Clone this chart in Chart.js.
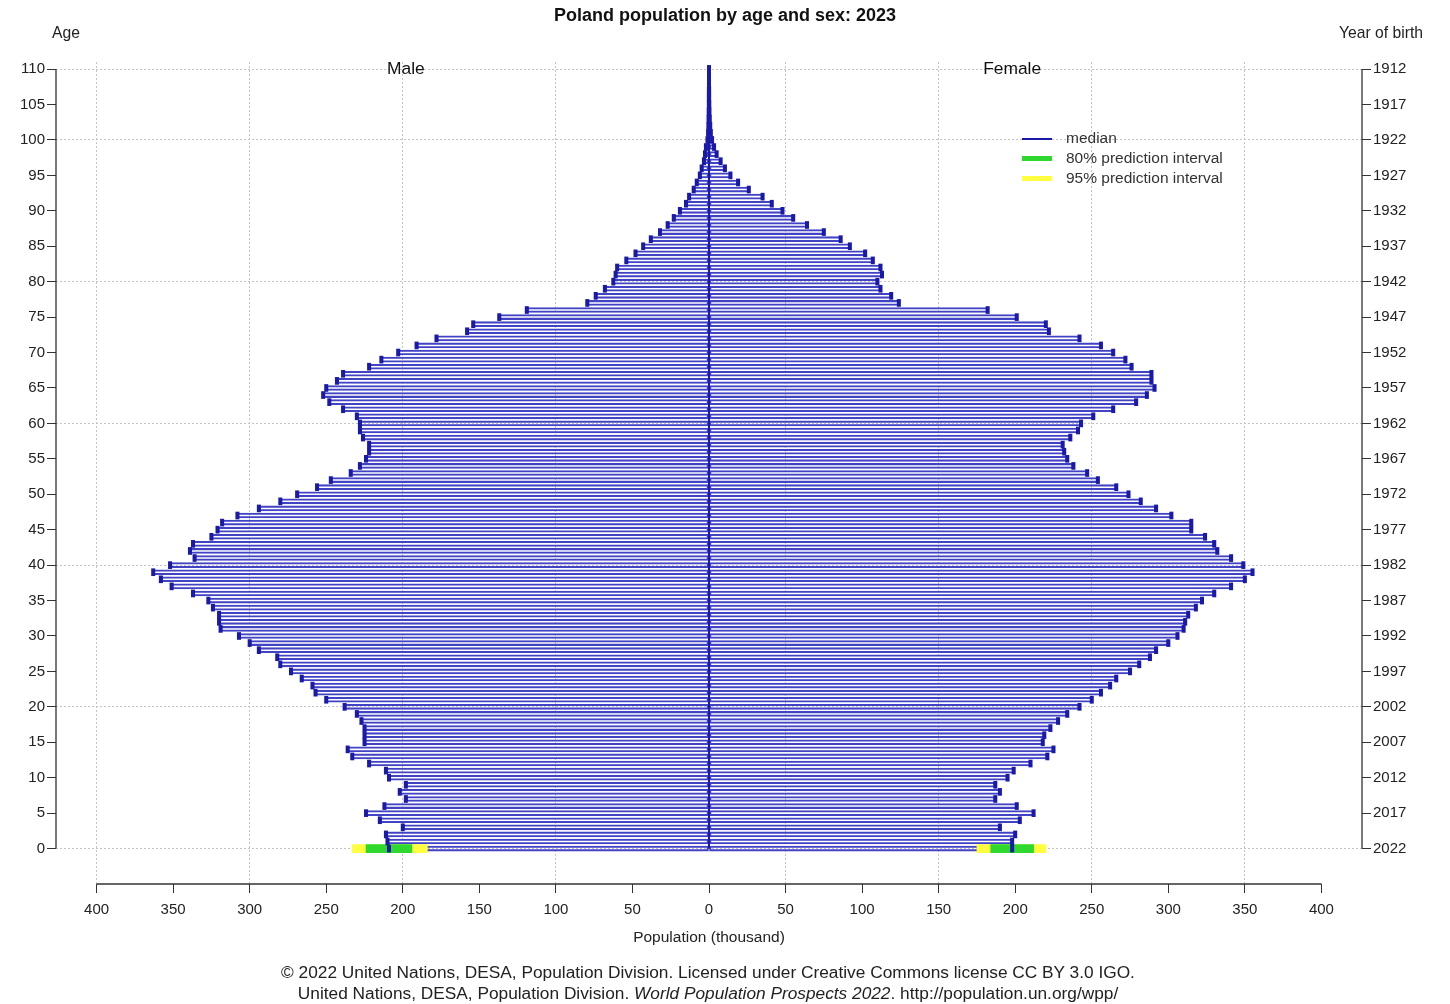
<!DOCTYPE html>
<html><head><meta charset="utf-8">
<title>Poland population by age and sex: 2023</title>
<script src="https://cdn.jsdelivr.net/npm/chart.js@4.4.0/dist/chart.umd.min.js"></script>
<style>
body{margin:0;background:#fff;font-family:'Liberation Sans',Arial,sans-serif;color:#222}
#wrap{position:relative;width:1450px;height:1004px}
.t{position:absolute;white-space:nowrap;transform:translate(-50%,-50%);font-size:15.7px}
.lg{position:absolute;left:1022px;font-size:15.5px;color:#333}
.lg i{display:inline-block;width:30px;vertical-align:middle;margin-right:14px}
</style></head><body>
<div id="wrap">
<canvas id="c" width="1450" height="1004"></canvas>
<div class="t" style="left:66px;top:33px">Age</div>
<div class="t" style="left:1381px;top:33px">Year of birth</div>
<div class="t" style="left:709px;top:937px;font-size:15.5px">Population (thousand)</div>
<div class="t" style="left:708px;top:972px;font-size:17.3px">© 2022 United Nations, DESA, Population Division. Licensed under Creative Commons license CC BY 3.0 IGO.</div>
<div class="t" style="left:708px;top:993px;font-size:17.3px">United Nations, DESA, Population Division. <em>World Population Prospects 2022</em>. http://population.un.org/wpp/</div>
<div class="lg" style="top:129px"><i style="height:2px;background:#1a1aa8"></i>median</div>
<div class="lg" style="top:149px"><i style="height:5px;background:#2ed82e"></i>80% prediction interval</div>
<div class="lg" style="top:169px"><i style="height:5px;background:#ffff40"></i>95% prediction interval</div>
</div>
<script>
// ages 0..110
const ages = Array.from({length:111},(_,i)=>i);
const male = [209,210,211,200,215,224,212,198,202,198,
  209,211,222,233,236,225,225,225,227,230,
  238,250,257,259,266,273,280,282,294,300,
  307,319,320,320,324,327,337,351,358,363,
  352,336,339,337,325,321,318,308,294,280,
  269,256,247,234,228,224,222,222,226,228,
  228,230,239,248,252,250,243,239,222,214,
  203,191,178,158,154,137,119,79.5,74,68,
  62.5,61,60,54,48,43,38,32,27,23,
  19,15,13,10,8,6,4.8,3.3,2.6,2,
  1,0.6,0.4,0.3,0.2,0.1,0.1,0.05,0,0,0];
const female = [198,198,200,190,203,212,201,187,190,187,
  195,199,210,221,225,218,219,223,228,234,
  242,250,256,262,266,275,281,288,292,300,
  306,310,311,313,318,322,330,341,350,355,
  349,341,332,330,324,315,315,302,292,282,
  274,266,254,247,238,234,232,231,236,241,
  243,251,264,279,286,291,289,289,276,272,
  264,256,242,222,220,201,182,124,119,112,
  110,113,112,107,102,92,86,75,64,55,
  48,41,35,26,19,14,10.4,7.6,5,3.3,
  2,1.2,0.8,0.5,0.3,0.2,0.1,0.1,0,0,0];
// prediction intervals, age 0 only
const piAge = 0;
const male95 = [233,184], male80 = [224,194];
const female95 = [175,220], female80 = [184,212];

const xTicks = [-400,-350,-300,-250,-200,-150,-100,-50,0,50,100,150,200,250,300,350,400];
const xGrid = [-400,-300,-200,-100,50,150,250,350];
const yTicks = [0,5,10,15,20,25,30,35,40,45,50,55,60,65,70,75,80,85,90,95,100,105,110];
const yGrid = [0,20,40,60,80,100,110];
const refYear = 2022;
const capHalf = 1.1;

const OUT = '#4242c4', MED = '#1a1aa8';

const barsM = ages.map((a,i)=>({y:a, x:[-male[i],0]}));
const barsF = ages.map((a,i)=>({y:a, x:[0,female[i]]}));
const capsM = ages.map((a,i)=>({y:a, x:[-male[i]-capHalf,-male[i]+capHalf]}));
const capsF = ages.map((a,i)=>({y:a, x:[female[i]-capHalf,female[i]+capHalf]}));

const axisLines = {
  id:'axisLines',
  afterDraw(chart){
    const {ctx, chartArea:a, scales:{x,y}} = chart;
    ctx.save();
    ctx.strokeStyle='#333'; ctx.lineWidth=1.3;
    ctx.beginPath();
    ctx.moveTo(a.left, y.getPixelForValue(0)); ctx.lineTo(a.left, y.getPixelForValue(110));
    ctx.moveTo(a.right, y.getPixelForValue(0)); ctx.lineTo(a.right, y.getPixelForValue(110));
    ctx.moveTo(x.getPixelForValue(-400), a.bottom); ctx.lineTo(x.getPixelForValue(400), a.bottom);
    ctx.stroke();
    ctx.fillStyle='#111'; ctx.font='17.4px "Liberation Sans", Arial, sans-serif';
    ctx.textAlign='center'; ctx.textBaseline='middle';
    ctx.fillText('Male', x.getPixelForValue(-198), y.getPixelForValue(110));
    ctx.fillText('Female', x.getPixelForValue(198), y.getPixelForValue(110));
    ctx.restore();
  }
};

const gridCol = (list) => c => (c.tick && list.includes(c.tick.value)) ? '#c4c4c4' : 'rgba(0,0,0,0)';
const tickFont = {family:'"Liberation Sans", Arial, sans-serif', size:15};

new Chart(document.getElementById('c'), {
  data: {
    datasets: [
      {type:'line', data: ages.map(a=>({x:0,y:a})), borderColor:MED, borderWidth:2, pointRadius:0, order:0},
      {type:'bar', data: capsM, backgroundColor:MED, borderWidth:0, barThickness:7, grouped:false, order:1},
      {type:'bar', data: capsF, backgroundColor:MED, borderWidth:0, barThickness:7, grouped:false, order:1},
      {type:'bar', data: [{y:piAge, x:[-male80[0],-male80[1]]}], backgroundColor:'#2ed82e', barThickness:8, grouped:false, order:2},
      {type:'bar', data: [{y:piAge, x:[female80[0],female80[1]]}], backgroundColor:'#2ed82e', barThickness:8, grouped:false, order:2},
      {type:'bar', data: [{y:piAge, x:[-male95[0],-male95[1]]}], backgroundColor:'#ffff40', barThickness:8, grouped:false, order:3},
      {type:'bar', data: [{y:piAge, x:[female95[0],female95[1]]}], backgroundColor:'#ffff40', barThickness:8, grouped:false, order:3},
      {type:'bar', data: barsM, backgroundColor:'rgba(255,255,255,0)', borderColor:OUT, borderWidth:1.4, borderSkipped:false, barThickness:5, grouped:false, order:4},
      {type:'bar', data: barsF, backgroundColor:'rgba(255,255,255,0)', borderColor:OUT, borderWidth:1.4, borderSkipped:false, barThickness:5, grouped:false, order:4}
    ]
  },
  options: {
    indexAxis:'y',
    responsive:false,
    animation:false,
    layout:{padding:0},
    plugins:{
      legend:{display:false},
      tooltip:{enabled:false},
      title:{display:true, text:'Poland population by age and sex: 2023', color:'#111',
        font:{family:'"Liberation Sans", Arial, sans-serif', size:18, weight:'bold', lineHeight:1.2},
        padding:{top:5, bottom:35.4}}
    },
    scales:{
      x:{type:'linear', min:-426.5, max:426.5, offset:false,
        afterBuildTicks: s => { s.ticks = xTicks.map(v=>({value:v})); },
        afterFit: s => { s.height = 120; },
        ticks:{callback: v => Math.abs(v), font:tickFont, color:'#222', padding:8, maxRotation:0, autoSkip:false},
        grid:{color: gridCol(xGrid), tickColor:'#333', tickLength:9, offset:false},
        border:{display:false, dash:[2,2]}},
      y:{type:'linear', position:'left', min:-5, max:111, offset:false,
        afterBuildTicks: s => { s.ticks = yTicks.map(v=>({value:v})); },
        afterFit: s => { s.width = 56; },
        ticks:{font:tickFont, color:'#222', padding:2, autoSkip:false},
        grid:{color: gridCol(yGrid), tickColor:'#333', tickLength:9, offset:false},
        border:{display:false, dash:[2,2]}},
      y2:{type:'linear', position:'right', min:-5, max:111, offset:false,
        afterBuildTicks: s => { s.ticks = yTicks.map(v=>({value:v})); },
        afterFit: s => { s.width = 88; },
        ticks:{callback: v => refYear - v, font:tickFont, color:'#222', padding:2, autoSkip:false},
        grid:{drawOnChartArea:false, tickColor:'#333', tickLength:9, offset:false},
        border:{display:false}}
    }
  },
  plugins:[axisLines]
});
</script>
</body></html>
